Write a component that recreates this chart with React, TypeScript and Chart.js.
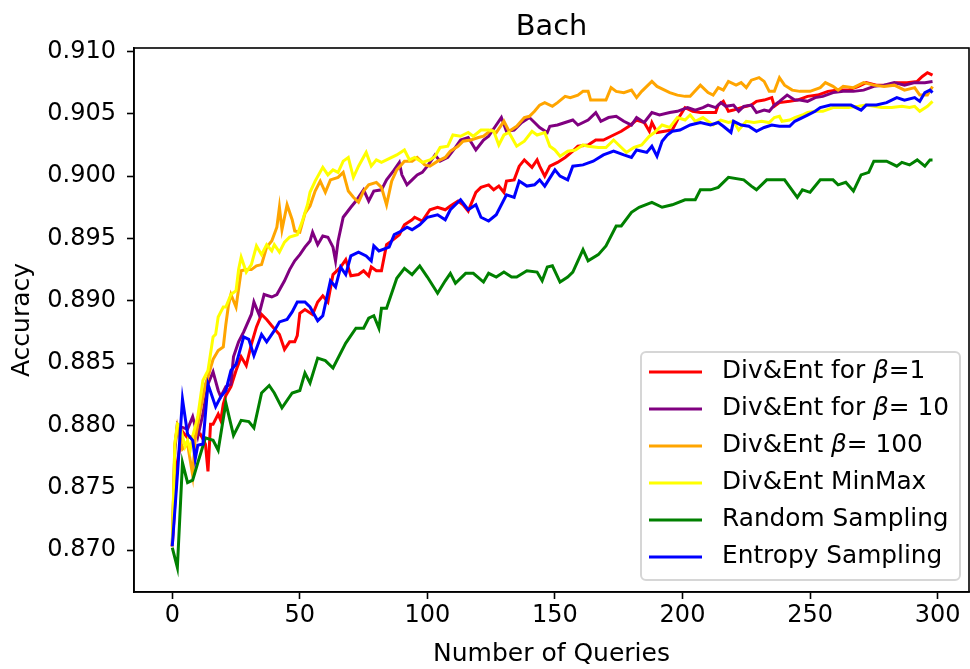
import React, { useEffect, useRef } from 'react';
import { Chart, registerables } from 'chart.js';

Chart.register(...registerables);

const TITLE = 'Bach';
const X_LABEL = 'Number of Queries';
const Y_LABEL = 'Accuracy';
const X_MIN = -15;
const X_MAX = 312.3;
const X_STEP = 50;
const Y_MIN = 0.86663;
const Y_MAX = 0.91028;
const Y_STEP = 0.005;

// [query, accuracy]
const divEntBeta1: [number, number][] = [
  [0, 0.8703], [2, 0.877], [4, 0.8795], [6, 0.879], [8, 0.8791], [11, 0.8793], [13, 0.8785], [14, 0.8763], [15, 0.8801], [16, 0.8801],
  [18, 0.8809], [19, 0.8804], [20, 0.8817], [21, 0.8824], [23, 0.8831], [25, 0.8844], [27, 0.8855], [29, 0.8848], [31, 0.8865], [33, 0.8879],
  [35, 0.8889], [37, 0.8885], [39, 0.888], [42, 0.8873], [44, 0.8861], [46, 0.8867], [48, 0.8867], [49, 0.8872], [50, 0.889], [52, 0.8893],
  [55, 0.8889], [57, 0.8899], [59, 0.8904], [61, 0.8899], [63, 0.8921], [66, 0.8927], [68, 0.8933], [70, 0.892], [73, 0.8921], [75, 0.8924],
  [77, 0.892], [78, 0.8927], [80, 0.8924], [82, 0.8924], [84, 0.8945], [86, 0.8948], [89, 0.8953], [91, 0.8961], [94, 0.8965], [95, 0.8967],
  [98, 0.8964], [101, 0.8973], [104, 0.8975], [107, 0.8973], [109, 0.8976], [112, 0.898], [114, 0.8977], [116, 0.8972], [119, 0.8987], [121, 0.8991],
  [124, 0.8993], [126, 0.8989], [128, 0.8992], [130, 0.8987], [131, 0.8996], [134, 0.8997], [136, 0.9008], [138, 0.9013], [141, 0.9007], [143, 0.9013],
  [144, 0.9008], [146, 0.9], [148, 0.9008], [151, 0.9011], [154, 0.9015], [157, 0.902], [159, 0.9024], [163, 0.9025], [166, 0.9029], [169, 0.9029],
  [172, 0.9032], [176, 0.9036], [179, 0.904], [182, 0.9045], [185, 0.9043], [187, 0.9036], [188, 0.9043], [190, 0.9035], [193, 0.9036], [196, 0.9037],
  [198, 0.9045], [201, 0.9055], [204, 0.9052], [207, 0.9051], [210, 0.9051], [213, 0.9051], [214, 0.9057], [216, 0.906], [218, 0.9052], [220, 0.9053],
  [223, 0.9055], [227, 0.9057], [229, 0.906], [232, 0.9061], [235, 0.9063], [236, 0.9056], [238, 0.9059], [242, 0.906], [245, 0.9061], [249, 0.9064],
  [253, 0.9065], [257, 0.9068], [261, 0.9069], [265, 0.9069], [269, 0.9072], [272, 0.9075], [276, 0.9073], [280, 0.9073], [284, 0.9075], [288, 0.9075],
  [292, 0.9076], [294, 0.908], [296, 0.9083], [298, 0.9081],
];

const divEntBeta10: [number, number][] = [
  [0, 0.8703], [1, 0.878], [2, 0.8801], [3, 0.8799], [6, 0.8797], [8, 0.8807], [10, 0.8791], [12, 0.8809], [14, 0.8833], [16, 0.8843],
  [18, 0.8828], [19, 0.8823], [21, 0.8831], [23, 0.8833], [24, 0.8855], [26, 0.8867], [28, 0.8875], [31, 0.8889], [32, 0.8899], [34, 0.8889],
  [36, 0.8905], [39, 0.8903], [41, 0.8905], [44, 0.8916], [46, 0.8925], [48, 0.8932], [50, 0.8937], [52, 0.8943], [54, 0.8948], [55, 0.8955],
  [57, 0.8945], [59, 0.8952], [61, 0.8951], [63, 0.8943], [64, 0.8932], [65, 0.8948], [67, 0.8967], [70, 0.8975], [72, 0.898], [75, 0.8989],
  [77, 0.898], [79, 0.8988], [82, 0.8989], [84, 0.8997], [87, 0.9005], [89, 0.9011], [90, 0.9001], [92, 0.8993], [94, 0.8997], [96, 0.9001],
  [98, 0.9003], [100, 0.9008], [103, 0.9017], [105, 0.9012], [108, 0.9015], [111, 0.9023], [113, 0.9029], [116, 0.9031], [119, 0.9021], [122, 0.9029],
  [124, 0.9032], [127, 0.9041], [129, 0.9047], [131, 0.9036], [134, 0.9037], [137, 0.9043], [140, 0.9047], [142, 0.9043], [144, 0.9039], [147, 0.9035],
  [148, 0.904], [151, 0.9041], [154, 0.9043], [157, 0.9045], [159, 0.9041], [163, 0.9045], [166, 0.9051], [168, 0.9044], [171, 0.9047], [174, 0.9048],
  [177, 0.9044], [180, 0.9041], [182, 0.9047], [185, 0.9043], [188, 0.9051], [191, 0.9049], [195, 0.9051], [198, 0.9052], [202, 0.9055], [205, 0.9053],
  [208, 0.9055], [210, 0.9057], [213, 0.9055], [215, 0.9059], [217, 0.9056], [220, 0.9057], [222, 0.9052], [224, 0.9056], [227, 0.9057], [229, 0.9051],
  [232, 0.9053], [234, 0.9052], [236, 0.9057], [238, 0.906], [241, 0.9065], [244, 0.9061], [246, 0.9061], [249, 0.906], [252, 0.9063], [255, 0.9064],
  [259, 0.9067], [263, 0.9068], [267, 0.9068], [271, 0.9069], [275, 0.9072], [279, 0.9073], [283, 0.9075], [287, 0.9073], [291, 0.9075], [295, 0.9075],
  [298, 0.9076],
];

const divEntBeta100: [number, number][] = [
  [0, 0.8703], [1, 0.8785], [2, 0.8799], [4, 0.8781], [6, 0.8785], [8, 0.876], [9, 0.8789], [11, 0.8812], [13, 0.8833], [14, 0.8839],
  [16, 0.8853], [18, 0.886], [20, 0.8863], [21, 0.8881], [22, 0.8896], [23, 0.8905], [25, 0.8895], [27, 0.8924], [29, 0.8925], [31, 0.8925],
  [33, 0.8928], [35, 0.8929], [37, 0.8943], [39, 0.8948], [41, 0.8959], [42, 0.8975], [43, 0.8957], [45, 0.8977], [47, 0.8965], [48, 0.8956],
  [50, 0.8955], [52, 0.897], [54, 0.8976], [56, 0.8988], [58, 0.8996], [60, 0.8987], [62, 0.8997], [65, 0.8999], [67, 0.9003], [69, 0.8988],
  [71, 0.8983], [73, 0.8979], [75, 0.8988], [77, 0.8993], [80, 0.8995], [82, 0.8991], [84, 0.8977], [86, 0.8996], [88, 0.9005], [91, 0.9012],
  [94, 0.9012], [96, 0.9015], [99, 0.9009], [101, 0.9008], [104, 0.9012], [107, 0.9015], [109, 0.902], [112, 0.9024], [114, 0.9028], [117, 0.9029],
  [120, 0.9031], [122, 0.9032], [125, 0.9037], [127, 0.9035], [130, 0.9044], [132, 0.9036], [135, 0.904], [138, 0.9047], [140, 0.9048], [142, 0.9052],
  [144, 0.9057], [146, 0.9059], [149, 0.9056], [151, 0.9059], [154, 0.9064], [156, 0.9063], [159, 0.9065], [161, 0.9068], [163, 0.9068], [164, 0.9061],
  [167, 0.9061], [170, 0.9061], [172, 0.9071], [174, 0.9068], [177, 0.9067], [180, 0.9069], [182, 0.9063], [184, 0.9068], [188, 0.9076], [190, 0.9072],
  [193, 0.9069], [195, 0.9067], [198, 0.9065], [201, 0.9064], [203, 0.9064], [207, 0.9073], [210, 0.9067], [212, 0.9065], [214, 0.9071], [216, 0.9069],
  [218, 0.9076], [221, 0.9073], [223, 0.9075], [225, 0.9071], [227, 0.9077], [230, 0.9079], [232, 0.9076], [234, 0.9068], [236, 0.9068], [238, 0.9079],
  [240, 0.9073], [243, 0.9069], [246, 0.9068], [250, 0.9068], [254, 0.9071], [256, 0.9075], [259, 0.9072], [261, 0.9069], [263, 0.9072], [267, 0.9071],
  [271, 0.9075], [275, 0.9073], [279, 0.9072], [283, 0.9073], [287, 0.9069], [291, 0.9071], [293, 0.9065], [296, 0.9065], [298, 0.9072],
];

const divEntMinMax: [number, number][] = [
  [0, 0.8703], [1, 0.8785], [2, 0.8801], [3, 0.88], [5, 0.8783], [6, 0.8788], [7, 0.878], [8, 0.8791], [10, 0.8807], [12, 0.8836],
  [14, 0.8844], [16, 0.8871], [17, 0.8873], [18, 0.8887], [20, 0.8895], [21, 0.8895], [23, 0.8905], [25, 0.8908], [26, 0.8925], [27, 0.8935],
  [29, 0.8923], [31, 0.8929], [33, 0.8944], [35, 0.8937], [37, 0.8945], [39, 0.894], [40, 0.8945], [42, 0.8939], [44, 0.8947], [46, 0.8951],
  [49, 0.8953], [51, 0.8964], [53, 0.8977], [54, 0.8987], [56, 0.8996], [59, 0.9007], [61, 0.9001], [63, 0.9005], [65, 0.9003], [67, 0.9012],
  [69, 0.9015], [71, 0.8999], [73, 0.9008], [76, 0.9019], [78, 0.9008], [80, 0.9013], [82, 0.9011], [86, 0.9015], [88, 0.9017], [91, 0.9021],
  [93, 0.9013], [95, 0.9015], [98, 0.9011], [101, 0.9013], [103, 0.9016], [105, 0.9023], [108, 0.9024], [110, 0.9033], [113, 0.9032], [116, 0.9035],
  [118, 0.9032], [121, 0.9037], [124, 0.9037], [126, 0.9036], [128, 0.9025], [130, 0.9033], [132, 0.9035], [135, 0.9024], [138, 0.9028], [141, 0.9036],
  [143, 0.9033], [146, 0.9035], [148, 0.9024], [150, 0.9021], [152, 0.9016], [155, 0.902], [158, 0.9021], [161, 0.9025], [163, 0.9024], [167, 0.9023],
  [170, 0.9023], [173, 0.9029], [175, 0.9025], [178, 0.9019], [181, 0.9023], [184, 0.9025], [187, 0.9032], [189, 0.9035], [192, 0.9041], [195, 0.9039],
  [198, 0.9047], [201, 0.9045], [203, 0.9049], [205, 0.9044], [208, 0.9047], [210, 0.9044], [212, 0.9041], [215, 0.9045], [218, 0.9043], [220, 0.9044],
  [222, 0.9037], [225, 0.9044], [228, 0.9043], [231, 0.9044], [234, 0.9043], [236, 0.9047], [238, 0.9048], [239, 0.9044], [242, 0.9045], [244, 0.9047],
  [247, 0.9049], [249, 0.9051], [252, 0.9052], [255, 0.9052], [259, 0.9055], [262, 0.9055], [265, 0.9055], [269, 0.9056], [272, 0.9057], [275, 0.9056],
  [278, 0.9055], [282, 0.9055], [286, 0.9056], [289, 0.9055], [291, 0.9056], [293, 0.9052], [296, 0.9056], [298, 0.906],
];

const randomSampling: [number, number][] = [
  [0, 0.8702], [2, 0.8686], [4, 0.877], [6, 0.8754], [8, 0.8756], [10, 0.877], [13, 0.879], [16, 0.8788], [18, 0.878], [21, 0.8818],
  [24, 0.8792], [27, 0.8804], [30, 0.8803], [32, 0.8798], [35, 0.8826], [38, 0.8832], [40, 0.8826], [43, 0.8814], [47, 0.8826], [50, 0.8828],
  [52, 0.8842], [54, 0.8834], [57, 0.8854], [60, 0.8852], [63, 0.8846], [68, 0.8866], [72, 0.8878], [75, 0.8878], [77, 0.8886], [79, 0.8888],
  [81, 0.8878], [82, 0.8894], [84, 0.8894], [88, 0.8918], [91, 0.8926], [94, 0.8921], [97, 0.8928], [100, 0.8919], [104, 0.8906], [107, 0.8916],
  [109, 0.8922], [111, 0.8914], [115, 0.8922], [118, 0.8922], [122, 0.8915], [124, 0.8922], [127, 0.8919], [130, 0.8923], [133, 0.8919], [135, 0.8919],
  [139, 0.8924], [143, 0.8923], [145, 0.8916], [147, 0.8927], [149, 0.8928], [152, 0.8915], [155, 0.8919], [157, 0.8923], [161, 0.8941], [163, 0.8932],
  [167, 0.8937], [170, 0.8944], [174, 0.896], [176, 0.896], [180, 0.8971], [183, 0.8975], [188, 0.8979], [192, 0.8975], [196, 0.8977], [201, 0.8981],
  [205, 0.8981], [207, 0.8989], [211, 0.8989], [214, 0.8991], [218, 0.8999], [224, 0.8997], [227, 0.8992], [229, 0.8989], [233, 0.8997], [240, 0.8997],
  [245, 0.8983], [247, 0.8989], [250, 0.8987], [254, 0.8997], [259, 0.8997], [261, 0.8993], [264, 0.8995], [267, 0.8988], [270, 0.9001], [273, 0.9003],
  [275, 0.9012], [280, 0.9012], [284, 0.9008], [286, 0.9011], [289, 0.9009], [292, 0.9013], [295, 0.9008], [297, 0.9013], [298, 0.9013],
];

const entropySampling: [number, number][] = [
  [0, 0.8703], [2, 0.876], [4, 0.8821], [6, 0.8793], [8, 0.8788], [9, 0.8773], [10, 0.8784], [12, 0.8785], [13, 0.8809], [14, 0.8833],
  [17, 0.8815], [19, 0.8823], [21, 0.8828], [23, 0.8844], [25, 0.8849], [28, 0.8871], [30, 0.8869], [32, 0.8856], [35, 0.8873], [37, 0.8867],
  [40, 0.8876], [42, 0.8883], [45, 0.8885], [47, 0.8891], [49, 0.8899], [52, 0.8899], [54, 0.8895], [57, 0.8884], [59, 0.8888], [62, 0.8916],
  [64, 0.8911], [66, 0.8927], [68, 0.8921], [70, 0.8936], [73, 0.8939], [76, 0.8936], [78, 0.8932], [79, 0.8944], [81, 0.894], [85, 0.8943],
  [87, 0.8953], [89, 0.8955], [92, 0.8959], [94, 0.8957], [97, 0.8961], [100, 0.8967], [104, 0.8969], [107, 0.8965], [109, 0.8973], [113, 0.8981],
  [116, 0.8973], [119, 0.8977], [121, 0.8967], [124, 0.8964], [127, 0.8969], [131, 0.8985], [134, 0.8983], [136, 0.8996], [139, 0.8992], [142, 0.8993],
  [144, 0.8997], [146, 0.8992], [150, 0.9005], [152, 0.9], [155, 0.8997], [157, 0.9008], [161, 0.9009], [165, 0.9012], [169, 0.9017], [173, 0.902],
  [177, 0.9017], [180, 0.9015], [182, 0.9021], [186, 0.9019], [188, 0.9024], [190, 0.9016], [192, 0.9028], [194, 0.9033], [196, 0.9036], [199, 0.9037],
  [203, 0.9041], [207, 0.9043], [211, 0.9041], [214, 0.9043], [216, 0.904], [219, 0.9035], [220, 0.9044], [223, 0.9041], [226, 0.904], [229, 0.9036],
  [232, 0.9039], [235, 0.9041], [238, 0.904], [242, 0.904], [244, 0.9044], [247, 0.9047], [249, 0.9049], [252, 0.9052], [254, 0.9055], [258, 0.9057],
  [262, 0.9057], [266, 0.9057], [270, 0.9053], [272, 0.9057], [276, 0.9057], [280, 0.9059], [284, 0.9063], [287, 0.9061], [291, 0.9063], [293, 0.906],
  [295, 0.9067], [297, 0.9069], [298, 0.9067],
];

// legend label pieces: [plain, italic, plain]
const SERIES = [
  { name: ['Div&Ent for ', 'β', '=1'], color: '#ff0000', points: divEntBeta1 },
  { name: ['Div&Ent for ', 'β', '= 10'], color: '#800080', points: divEntBeta10 },
  { name: ['Div&Ent ', 'β', '= 100'], color: '#ffa500', points: divEntBeta100 },
  { name: ['Div&Ent MinMax', '', ''], color: '#ffff00', points: divEntMinMax },
  { name: ['Random Sampling', '', ''], color: '#008000', points: randomSampling },
  { name: ['Entropy Sampling', '', ''], color: '#0000ff', points: entropySampling },
];

const FONT_FAMILY = '"DejaVu Sans", sans-serif';
const TICK_FONT = { family: FONT_FAMILY, size: 24 };
const LABEL_FONT = { family: FONT_FAMILY, size: 25 };
const LEGEND_SIZE = 24.8;

const framePlugin = {
  id: 'frame',
  afterDraw(chart: any) {
    const { ctx, chartArea: a } = chart;
    ctx.save();
    ctx.strokeStyle = '#000';
    ctx.lineWidth = 1.6;
    ctx.strokeRect(a.left, a.top, a.right - a.left, a.bottom - a.top);
    ctx.restore();
  },
};

const titlePlugin = {
  id: 'mplTitle',
  afterDraw(chart: any) {
    const { ctx, chartArea: a } = chart;
    ctx.save();
    ctx.fillStyle = '#000';
    ctx.font = `28.8px ${FONT_FAMILY}`;
    ctx.textAlign = 'center';
    ctx.textBaseline = 'alphabetic';
    ctx.fillText(TITLE, (a.left + a.right) / 2, a.top - 13);
    ctx.restore();
  },
};

const legendPlugin = {
  id: 'mplLegend',
  afterDraw(chart: any) {
    const { ctx } = chart;
    const bx = 641, by = 352, bw = 319, bh = 228, r = 5;
    ctx.save();
    ctx.beginPath();
    ctx.moveTo(bx + r, by);
    ctx.arcTo(bx + bw, by, bx + bw, by + bh, r);
    ctx.arcTo(bx + bw, by + bh, bx, by + bh, r);
    ctx.arcTo(bx, by + bh, bx, by, r);
    ctx.arcTo(bx, by, bx + bw, by, r);
    ctx.closePath();
    ctx.fillStyle = 'rgba(255,255,255,0.8)';
    ctx.fill();
    ctx.strokeStyle = '#d6d6d6';
    ctx.lineWidth = 2;
    ctx.stroke();
    SERIES.forEach((s, i) => {
      const y = by + 20 + i * 37;
      ctx.beginPath();
      ctx.strokeStyle = s.color;
      ctx.lineWidth = 3;
      ctx.moveTo(649, y);
      ctx.lineTo(702, y);
      ctx.stroke();
      ctx.fillStyle = '#000';
      ctx.textBaseline = 'middle';
      ctx.textAlign = 'left';
      let x = 722;
      const fonts = [
        `${LEGEND_SIZE}px ${FONT_FAMILY}`,
        `italic ${LEGEND_SIZE}px ${FONT_FAMILY}`,
        `${LEGEND_SIZE}px ${FONT_FAMILY}`,
      ];
      s.name.forEach((part, k) => {
        if (!part) return;
        ctx.font = fonts[k];
        ctx.fillText(part, x, y);
        x += ctx.measureText(part).width;
      });
    });
    ctx.restore();
  },
};

export default function App() {
  const ref = useRef<HTMLCanvasElement | null>(null);
  useEffect(() => {
    document.body.style.margin = '0';
    const canvas = ref.current;
    if (!canvas) return;
    const chart = new Chart(canvas, {
      type: 'line',
      data: {
        datasets: SERIES.map((s, i) => ({
          label: s.name.join(''),
          data: s.points.map(([x, y]) => ({ x, y })),
          borderColor: s.color,
          backgroundColor: s.color,
          borderWidth: 3,
          pointRadius: 0,
          tension: 0,
          fill: false,
          order: SERIES.length - 1 - i,
        })),
      },
      options: {
        responsive: false,
        animation: false,
        devicePixelRatio: 1,
        layout: { padding: { top: 48, right: 1, left: 0, bottom: 0 } },
        plugins: {
          legend: { display: false },
          title: { display: false },
          tooltip: { enabled: false },
        },
        scales: {
          x: {
            type: 'linear',
            min: X_MIN,
            max: X_MAX,
            afterFit: (s: any) => { s.height = 77; },
            ticks: {
              stepSize: X_STEP,
              includeBounds: false,
              autoSkip: false,
              maxRotation: 0,
              color: '#000',
              font: TICK_FONT,
              padding: 2,
              callback: (v: any) => String(v),
            },
            grid: { drawOnChartArea: false, drawTicks: true, tickLength: 7, tickColor: '#000', tickWidth: 1.6 },
            border: { display: true, color: '#000', width: 1.6 },
            title: { display: true, text: X_LABEL, color: '#000', font: LABEL_FONT, padding: { top: 0, bottom: 0 } },
          },
          y: {
            type: 'linear',
            min: Y_MIN,
            max: Y_MAX,
            afterFit: (s: any) => { s.width = 134; },
            ticks: {
              stepSize: Y_STEP,
              includeBounds: false,
              autoSkip: false,
              color: '#000',
              font: TICK_FONT,
              padding: 11,
              callback: (v: any) => Number(v).toFixed(3),
            },
            grid: { drawOnChartArea: false, drawTicks: true, tickLength: 7, tickColor: '#000', tickWidth: 1.6 },
            border: { display: true, color: '#000', width: 1.6 },
            title: { display: true, text: Y_LABEL, color: '#000', font: LABEL_FONT, padding: { top: 7, bottom: 0 } },
          },
        },
      },
      plugins: [framePlugin, titlePlugin, legendPlugin],
    } as any);
    return () => chart.destroy();
  }, []);
  return (
    <div style={{ position: 'absolute', left: 0, top: 0, width: 970, height: 669, background: '#fff' }}>
      <canvas ref={ref} width={970} height={669} />
    </div>
  );
}
